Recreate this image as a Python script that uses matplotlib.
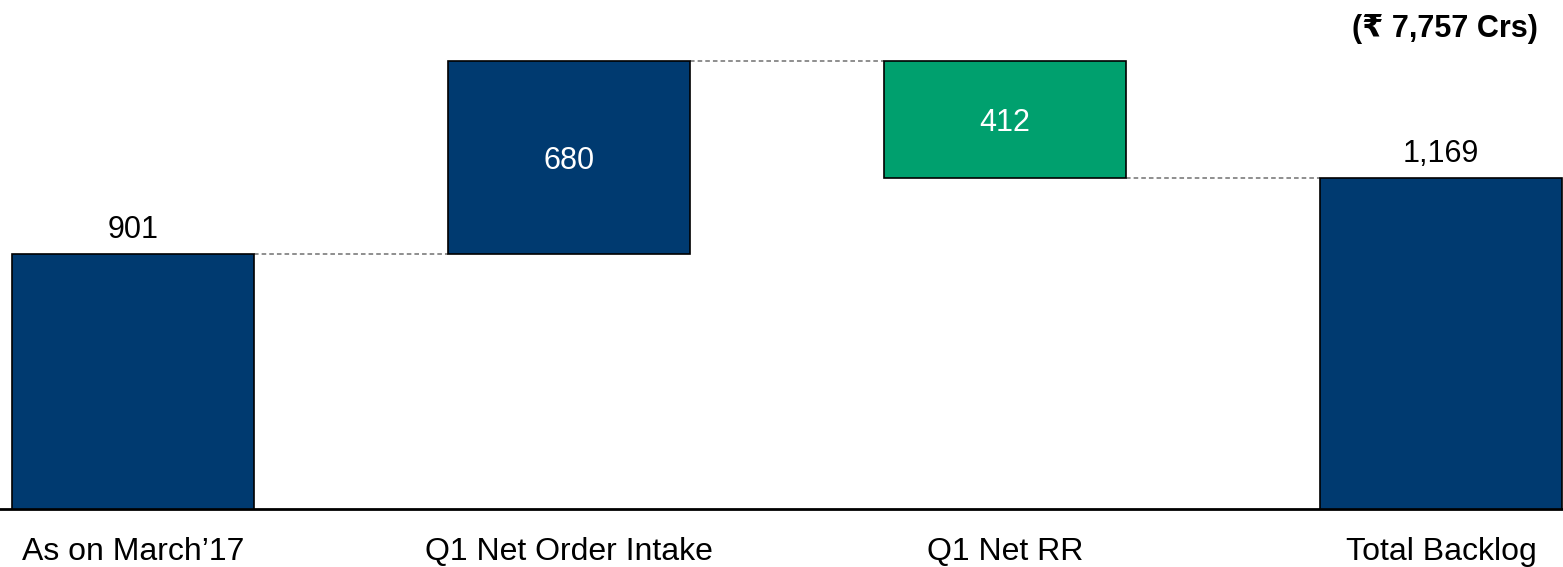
import matplotlib.pyplot as plt

# waterfall data
categories = ["As on March\u201917", "Q1 Net Order Intake", "Q1 Net RR", "Total Backlog"]
changes = [901, 680, -412, 1169]
kinds = ["total", "up", "down", "total"]
value_labels = ["901", "680", "412", "1,169"]
title_text = "(\u20b9 7,757 Crs)"

navy = "#003a70"
green = "#00a06e"

plt.rcParams['font.family'] = ['Liberation Sans', 'DejaVu Sans']

fig = plt.figure(figsize=(15.63, 5.67), dpi=100)
ax = fig.add_axes([0, 0.1023, 1, 0.8977])

bw = 0.555
running = 0
bottoms, heights, tops = [], [], []
for c, k in zip(changes, kinds):
    if k == "total":
        b, h = 0, c
        running = c
    elif k == "up":
        b, h = running, c
        running += c
    else:
        b, h = running + c, -c
        running += c
    bottoms.append(b)
    heights.append(h)
    tops.append(running)

colors = [navy if k != "down" else green for k in kinds]
x = list(range(len(categories)))
ax.bar(x, heights, bottom=bottoms, width=bw, color=colors, edgecolor="black", linewidth=1.2, zorder=3)

# connectors
for i in range(len(x) - 1):
    ax.plot([x[i] + bw / 2, x[i + 1] - bw / 2], [tops[i], tops[i]],
            ls=(0, (3, 2)), color="#707070", lw=1.1, zorder=2)

# value labels
for i, k in enumerate(kinds):
    if k == "total":
        ax.text(x[i], bottoms[i] + heights[i] + 57, value_labels[i], ha="center", va="baseline",
                fontsize=22, color="black")
    else:
        ax.text(x[i], bottoms[i] + heights[i] / 2 - 39, value_labels[i], ha="center", va="baseline",
                fontsize=22, color="white")

ax.set_xlim(-0.305, 3.28)
ax.set_ylim(0, 1798)
ax.set_xticks(x)
ax.set_xticklabels(categories, fontsize=23)
ax.tick_params(axis="x", length=0, pad=20)
ax.set_yticks([])
for s in ["top", "left", "right"]:
    ax.spines[s].set_visible(False)
ax.spines["bottom"].set_linewidth(2)

fig.text(0.984, 0.9347, title_text, ha="right", va="baseline", fontsize=22, fontweight="bold")

fig.savefig("out.png", dpi=100)
